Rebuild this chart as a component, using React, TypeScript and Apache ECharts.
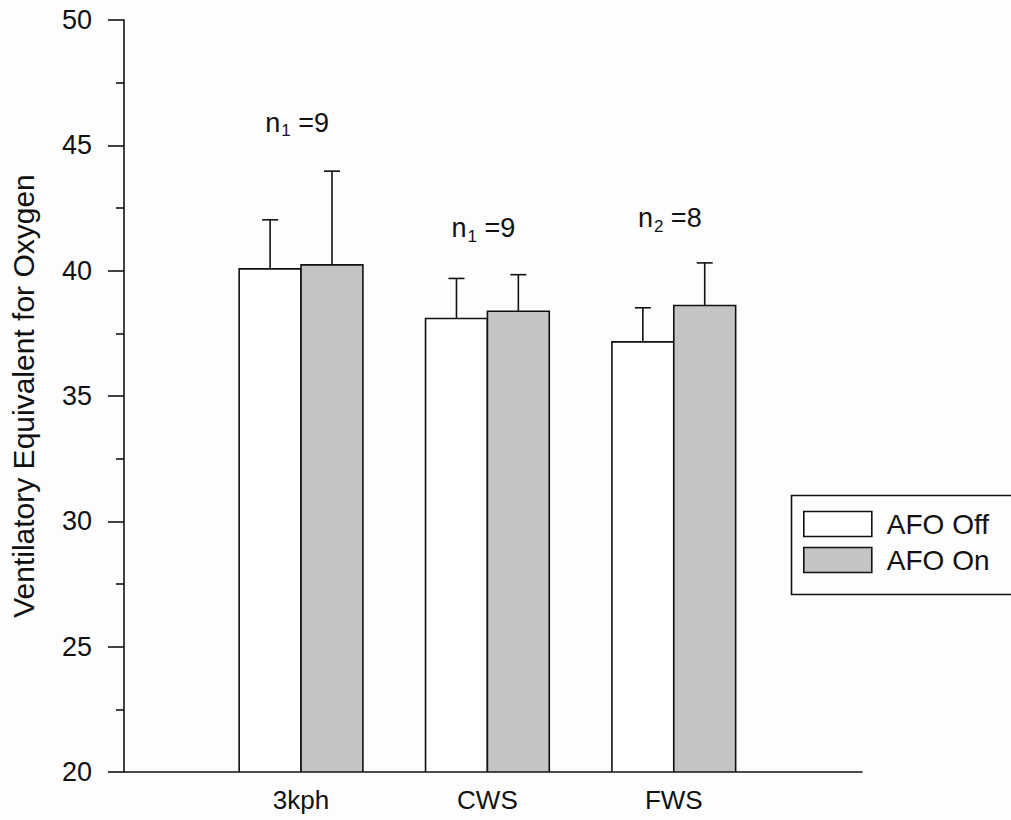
import React, { useEffect, useRef } from "react";
import * as echarts from "echarts";

// Walking conditions and their positions along the x axis
const categories = ["3kph", "CWS", "FWS"];
const categoryPos = [1, 2, 3];

// Mean ventilatory equivalent for oxygen, and mean + SD (top of error bar)
const afoOffMean = [40.07, 38.09, 37.16];
const afoOffUpper = [42.03, 39.69, 38.52];
const afoOnMean = [40.23, 38.38, 38.61];
const afoOnUpper = [43.97, 39.84, 40.31];

// Sample-size notes above each group
const nSubscript = ["1", "1", "2"];
const nValue = ["9", "9", "8"];
const nLabelLevel = [45.9, 41.7, 42.1];

const yMin = 20;
const yMax = 50;
const yStep = 5;

const FONT = "'Liberation Sans', Arial, Helvetica, sans-serif";
const INK = "#111";
const BAR_UNITS = 0.332; // width of a single bar in x-axis units

function barSeries(name: string, means: number[], uppers: number[], side: number, fill: string) {
  return {
    name,
    type: "custom",
    clip: true,
    itemStyle: { color: fill, borderColor: INK, borderWidth: 1.6 },
    data: categoryPos.map((p, i) => [p, means[i], uppers[i]]),
    renderItem: (params: any, api: any) => {
      const x = api.value(0);
      const mean = api.value(1);
      const upper = api.value(2);
      const w = api.size([BAR_UNITS, 0])[0];
      const base = api.coord([x, yMin]);
      const top = api.coord([x, mean]);
      const errTop = api.coord([x, upper]);
      const left = side < 0 ? base[0] - w : base[0];
      const cx = left + w / 2;
      const lineStyle = { stroke: INK, lineWidth: 1.6 };
      return {
        type: "group",
        children: [
          { type: "line", shape: { x1: cx, y1: top[1], x2: cx, y2: errTop[1] }, style: lineStyle },
          { type: "line", shape: { x1: cx - 8, y1: errTop[1], x2: cx + 8, y2: errTop[1] }, style: lineStyle },
          {
            type: "rect",
            shape: { x: left, y: top[1], width: w, height: base[1] - top[1] },
            style: { fill, stroke: INK, lineWidth: 1.6 },
          },
        ],
      };
    },
  };
}

export default function App() {
  const ref = useRef<HTMLDivElement>(null);

  useEffect(() => {
    if (!ref.current) return;
    const chart = echarts.init(ref.current, null, { renderer: "svg" });

    const option: any = {
      animation: false,
      backgroundColor: "#fdfdfd",
      textStyle: { fontFamily: FONT, color: INK },
      grid: { left: 121, right: 149, top: 20, bottom: 48, containLabel: false },
      xAxis: {
        type: "value",
        min: 0.05,
        max: 4.01,
        splitLine: { show: false },
        axisTick: { show: false },
        axisLine: { onZero: false, lineStyle: { color: INK, width: 1.6 } },
        axisLabel: {
          customValues: categoryPos,
          formatter: (v: number) => categories[categoryPos.indexOf(v)] ?? "",
          fontSize: 26,
          color: INK,
          margin: 15,
          fontFamily: FONT,
        },
      },
      yAxis: {
        type: "value",
        min: yMin,
        max: yMax,
        interval: yStep,
        name: "Ventilatory Equivalent for Oxygen",
        nameLocation: "middle",
        nameGap: 86,
        nameTextStyle: { fontSize: 30, color: INK, fontFamily: FONT },
        splitLine: { show: false },
        axisLine: { onZero: false, lineStyle: { color: INK, width: 1.6 } },
        axisTick: { inside: false, length: 16, lineStyle: { color: INK, width: 1.6 } },
        minorTick: { show: true, splitNumber: 2, length: 8, lineStyle: { color: INK, width: 1.6 } },
        axisLabel: { fontSize: 27, color: INK, margin: 32, fontFamily: FONT },
      },
      legend: {
        orient: "vertical",
        left: 803,
        top: 510,
        padding: 0,
        itemWidth: 68,
        itemHeight: 25,
        itemGap: 8,
        selectedMode: false,
        textStyle: { fontSize: 28, lineHeight: 28, color: INK, fontFamily: FONT, padding: [0, 0, 0, 10] },
        data: [
          { name: "AFO Off", icon: "rect", itemStyle: { color: "#ffffff", borderColor: INK, borderWidth: 1.6 } },
          { name: "AFO On", icon: "rect", itemStyle: { color: "#c4c4c4", borderColor: INK, borderWidth: 1.6 } },
        ],
      },
      graphic: [
        {
          type: "rect",
          left: 789,
          top: 493,
          shape: { width: 260, height: 99 },
          style: { fill: "none", stroke: INK, lineWidth: 1.6 },
          silent: true,
        },
      ],
      series: [
        barSeries("AFO Off", afoOffMean, afoOffUpper, -1, "#ffffff"),
        barSeries("AFO On", afoOnMean, afoOnUpper, 1, "#c4c4c4"),
        {
          name: "sample size",
          type: "custom",
          clip: false,
          silent: true,
          data: categoryPos.map((p, i) => [p, nLabelLevel[i], nSubscript[i], nValue[i]]),
          renderItem: (params: any, api: any) => {
            const i = params.dataIndex;
            const pt = api.coord([api.value(0), api.value(1)]);
            return {
              type: "text",
              x: pt[0] - 4,
              y: pt[1],
              style: {
                text: `{n|n}{s|${nSubscript[i]}}{n| =${nValue[i]}}`,
                align: "center",
                verticalAlign: "middle",
                fill: INK,
                rich: {
                  n: { fontSize: 27, fontFamily: FONT, fill: INK, lineHeight: 30 },
                  s: { fontSize: 17, fontFamily: FONT, fill: INK, padding: [16, 0, 0, 1], lineHeight: 30 },
                },
              },
            };
          },
        },
      ],
    };

    chart.setOption(option);
    return () => chart.dispose();
  }, []);

  return (
    <div
      ref={ref}
      style={{ position: "absolute", left: 0, top: 0, width: 1011, height: 820 }}
    />
  );
}
